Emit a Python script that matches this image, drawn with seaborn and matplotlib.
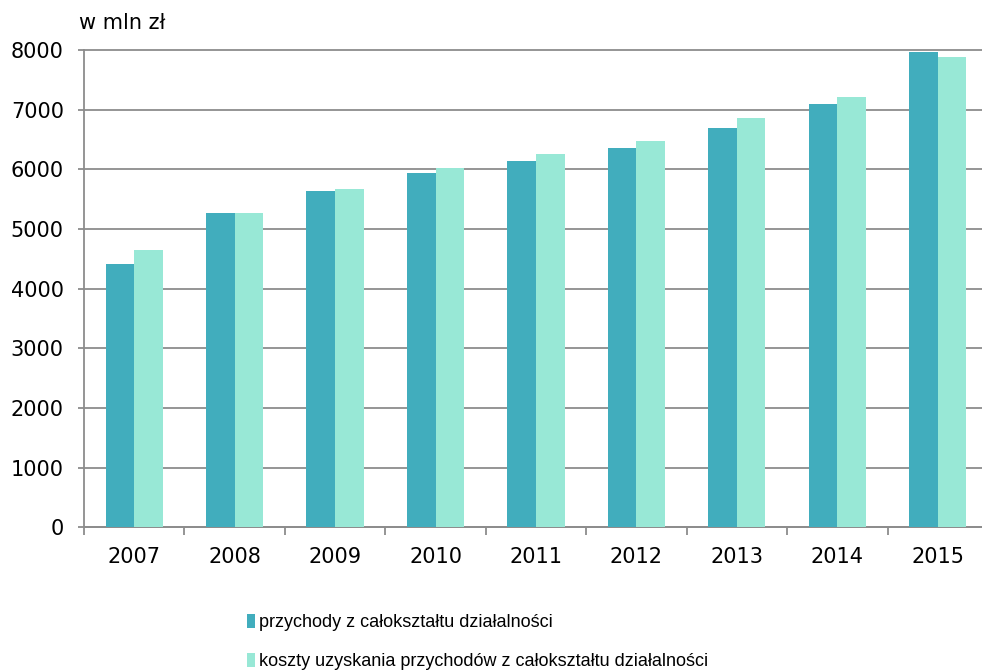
import pandas as pd
import numpy as np
import matplotlib.pyplot as plt
import seaborn as sns
from matplotlib.patches import Patch

years = ['2007', '2008', '2009', '2010', '2011', '2012', '2013', '2014', '2015']
przychody = [4410, 5265, 5635, 5935, 6135, 6360, 6695, 7095, 7965]
koszty = [4650, 5270, 5670, 6025, 6255, 6475, 6855, 7215, 7880]
series_names = ['przychody z całokształtu działalności',
                'koszty uzyskania przychodów z całokształtu działalności']
colors = ['#41ADBD', '#98E8D6']

df = pd.DataFrame({
    'rok': years * 2,
    'wartosc': przychody + koszty,
    'seria': [series_names[0]] * len(years) + [series_names[1]] * len(years),
})

sns.set_style('white')
plt.rcParams['font.family'] = ['DejaVu Sans']
plt.rcParams['text.color'] = 'black'
plt.rcParams['xtick.color'] = 'black'
plt.rcParams['ytick.color'] = 'black'

fig = plt.figure(figsize=(9.82, 6.70), dpi=100)
ax = fig.add_axes([0.0855, 0.213, 0.9206, 0.7124])

sns.barplot(data=df, x='rok', y='wartosc', hue='seria', palette=colors,
            width=0.57, gap=0, saturation=1, ax=ax, legend=False, zorder=3,
            edgecolor='none', linewidth=0)

ax.set_ylim(0, 8000)
ax.set_xlim(-0.5, len(years) - 0.5)
ax.set_yticks(range(0, 8001, 1000))
ax.yaxis.grid(True, color='#8c8c8c', linewidth=1.3, zorder=0)
ax.set_axisbelow(True)
ax.set_xlabel('')
ax.set_ylabel('')
for gl in ax.get_ygridlines():
    gl.set_clip_on(False)

for s in ['top', 'right']:
    ax.spines[s].set_visible(False)
for s in ['left', 'bottom']:
    ax.spines[s].set_color('#8c8c8c')
    ax.spines[s].set_linewidth(1.3)

ax.tick_params(axis='y', left=True, length=4.5, width=1.3, color='#8c8c8c',
               labelcolor='black', labelsize=15, pad=10)
ax.set_xticks(np.arange(-0.5, len(years), 1.0), minor=True)
ax.tick_params(axis='x', which='major', length=0, labelcolor='black', labelsize=15, pad=14)
ax.tick_params(axis='x', which='minor', bottom=True, length=6, width=1.3, color='#8c8c8c')

fig.text(0.080, 0.966, 'w mln zł', fontsize=15, ha='left', va='center')

handles = [Patch(facecolor=c, edgecolor='none') for c in colors]
fig.legend(handles, series_names, loc='upper left', bbox_to_anchor=(0.2445, 0.095),
           frameon=False, handlelength=0.45, handleheight=0.85,
           handletextpad=0.2, labelspacing=1.2, borderaxespad=0,
           prop={'family': ['Liberation Sans', 'DejaVu Sans'], 'size': 13})

plt.savefig('out.png', dpi=100)
